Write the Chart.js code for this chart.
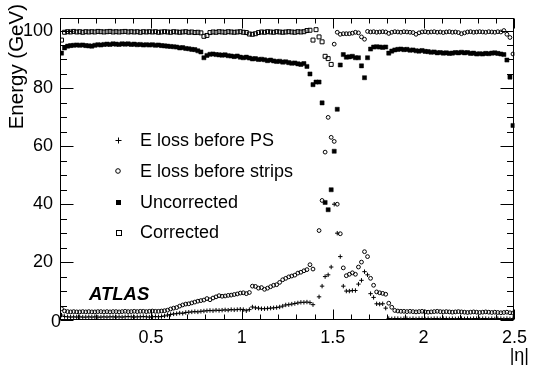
<!DOCTYPE html>
<html><head><meta charset="utf-8">
<script src="https://cdn.jsdelivr.net/npm/chart.js@4.4.0/dist/chart.umd.min.js"></script>
<style>html,body{margin:0;padding:0;background:#fff;overflow:hidden}</style>
</head><body>
<canvas id="c" width="534" height="367" style="display:block;width:534px;height:367px"></canvas>
<script>
// 150 |eta| bins of width 1/60 between 0 and 2.5 (bin centres)
const nBins = 150;
const etaBins = Array.from({length: nBins}, (_, i) => (i + 0.5) / 60);

const lossBeforePS = [1.7,
 1.2,1.1,1.0,1.1,1.0,1.1,1.0,1.0,1.1,1.0, 1.1,1.0,1.0,1.1,1.0,1.1,1.1,1.0,1.1,1.0, 1.1,1.2,1.1,1.0,1.1,1.1,1.2,1.1,1.0,1.1, 1.2,1.1,1.2,
 1.4,1.7,1.9,2.1,2.2,2.4,2.3,2.6,2.7,2.8, 2.9,2.8,3.0,3.1,3.2,3.3,3.2,3.4,3.3,3.4, 3.5,3.4,3.6,3.5,3.6,3.7,3.6,3.2,3.6,4.5,
 4.2,4.1,3.9,3.9,4.0,4.1,4.2,4.3,4.5,4.8, 5.2,5.3,5.5,5.7,5.9,6.1,6.1,6.2,6.0,5.3,
 null,
 8.0,11.7,15.0,15.6,18.3,40.0,30.0,21.9,11.7,10.0, 10.0,10.2,10.2,12.4,13.7,16.7,15.6,9.1,7.8,5.6, 5.5,5.6,4.1,
 0.5,0.4,0.5,0.5,0.4,0.5,0.5,0.4,0.5,0.4, 0.5,0.5,0.4,0.5,0.4,0.5,0.5,0.4,0.5,0.5, 0.4,0.5,0.4,0.5,0.5,0.4,0.5,0.4,0.5,0.5, 0.4,0.5,0.5,0.4,0.5,0.4,0.5,0.5,0.4,0.5, 0.4,0.5];

const lossBeforeStrips = [3.9,
 3.1,2.9,2.8,2.9,2.8,2.8,2.9,2.8,2.9,2.8, 2.8,2.9,2.9,2.8,2.9,2.8,2.9,2.9,2.8,2.9, 3.0,2.9,2.9,3.0,2.9,3.0,3.0,2.9,3.0,3.1, 3.0,3.0,3.1,3.2,
 3.4,3.8,4.1,4.3,4.8, 5.2,5.5,5.6,5.9,6.2,6.5,6.7,6.9,7.4,7.0, 7.6,8.0,8.4,8.2,8.3,8.5,8.6,8.8,9.0,9.3,
 9.4,9.1,9.5,11.7,11.6,11.0,11.2,10.6,11.0,11.5, 12.0,12.2,13.0,13.9,14.4,14.9,15.2,15.5,16.2,16.5, 17.0,17.4,19.1,17.6,
 null,
 30.9,41.3,58.0,70.0,63.1,61.7,40.0,29.8,18.0,15.3, 15.8,16.3,15.8,18.3,20.0,23.6,21.9,14.4,12.0,9.7, 9.4,9.2,8.9,5.8,4.4,3.3,3.1,
 3.0,3.0,2.9,3.0,2.9,2.8,2.9,3.0,2.8,2.7, 2.8,2.9,3.0,2.9,2.8,2.9,2.8,2.7,2.8,2.9, 2.8,2.7,2.6,2.7,2.8,2.7,2.6,2.7,2.8,2.7, 2.6,2.7,2.6,2.5,2.6,2.7,2.5,2.4];

const uncorrected = [
 92.2,94.0,94.6,94.8,94.9,95.0,94.9,95.0,94.8,94.7, 94.6,94.9,95.1,95.0,95.2,95.3,95.2,95.4,95.3,95.2,
 95.4,95.3,95.4,95.2,95.3,95.1,95.2,95.0,95.1,95.0, 95.1,94.9,95.0,94.8,94.7,94.6,94.5,94.4,94.3,94.0,
 94.1,93.8,93.7,93.5,93.4,93.0,92.6,90.6,91.4,91.8, 91.9,91.7,91.6,91.5,91.6,91.3,91.2,91.0,91.2,90.8,
 90.6,90.8,90.5,90.2,90.3,90.0,90.1,89.9,89.6,89.8, 89.5,89.3,89.4,89.1,89.2,88.9,88.7,88.8,88.5,88.3,
 88.6,87.6,85.0,81.3,82.2,82.2,75.0,40.6,38.1,45.0, 58.3,72.8,88.1,91.7,90.8,90.9,91.1,90.6,90.6,87.8,
 83.7,90.6,93.6,94.3,94.4,94.3,94.2,94.3,
 92.2,92.9,93.3,93.5,93.6,93.4,93.5,93.2,93.3,93.0, 92.9,93.1,92.8,92.7,92.5,92.6,92.3,92.4,92.2,92.3,
 92.1,92.2,92.4,92.3,92.5,92.3,92.4,92.1,92.2,91.9, 92.0,91.9,92.1,92.0,92.2,92.3,92.1,91.9,
 91.7,89.8,83.9,67.2];

const corrected = [
 96.7,99.4,99.6,99.5,99.7,99.5,99.6,99.4,99.6,99.5, 99.6,99.5,99.7,99.6,99.5,99.6,99.7,99.5,99.6,99.5,
 99.6,99.7,99.5,99.6,99.5,99.6,99.4,99.6,99.5,99.6, 99.5,99.6,99.4,99.5,99.6,99.5,99.4,99.6,99.5,99.4,
 99.5,99.6,99.4,99.5,99.3,99.4,99.2,98.0,98.3,99.3, 99.5,99.4,99.6,99.5,99.4,99.6,99.5,99.4,99.5,99.6,
 99.4,99.3,98.8,98.7,98.9,99.3,99.5,99.4,99.6,99.5, 99.4,99.6,99.5,99.4,99.5,99.6,99.5,99.4,99.6,99.5,
 99.6,100.0,100.1,96.7,100.3,97.8,96.1,91.1,90.3,88.3, 95.3,99.4,98.7,98.9,98.9,98.9,99.1,99.4,99.2,97.8,
 97.0,99.7,99.5,99.6,99.4,99.5,99.6,99.5,
 99.0,99.4,99.6,99.5,99.4,99.6,99.5,99.4,99.3,98.7, 99.2,99.5,99.6,99.4,99.5,99.6,99.4,99.5,99.3,99.5,
 99.6,99.4,99.5,99.3,98.9,99.2,99.5,99.6,99.4,99.5, 99.6,99.5,99.4,99.6,99.5,99.4,99.6,99.5,
 100.0,98.7,97.6,91.9];

const seriesNames = ['E loss before PS', 'E loss before strips', 'Uncorrected', 'Corrected'];
const xTickValues = [0, 0.5, 1, 1.5, 2, 2.5];
const xTickLabels = ['0', '0.5', '1', '1.5', '2', '2.5'];
const yTickValues = [0, 20, 40, 60, 80, 100];
const yTickLabels = ['0', '20', '40', '60', '80', '100'];
const originLabel = '0'; // shared "0" of both axes, drawn once at the corner
const xTitle = '|η|';
const yTitle = 'Energy (GeV)';
const expLabel = 'ATLAS';
const crackEdge = 1.5; // corrected points drawn as squares below, circles above

const FONT = "'Liberation Sans', Arial, Helvetica, sans-serif";

function pts(vals) {
  return etaBins.map((x, i) => ({x, y: vals[i]})).filter(p => p.y !== null && p.y !== undefined);
}

const decor = {
  id: 'decor',
  beforeDatasetsDraw(chart) {
    const {ctx, chartArea: a, scales: {x, y}} = chart;
    ctx.save();
    ctx.strokeStyle = '#000';
    ctx.lineWidth = 1;
    const L = Math.round(a.left) + 0.5, R = Math.round(a.right) - 0.5;
    const T = Math.round(a.top) + 0.5, B = Math.round(a.bottom) - 0.5;
    ctx.strokeRect(L, T, R - L, B - T);
    ctx.beginPath();
    for (let k = 0; k <= 25; k++) {
      const v = k / 10;
      const px = Math.round(x.getPixelForValue(v)) + 0.5;
      const len = (k % 5 === 0) ? 10 : 5;
      ctx.moveTo(px, B); ctx.lineTo(px, B - len);
      ctx.moveTo(px, T); ctx.lineTo(px, T + len);
    }
    for (let v = 0; v <= 100; v += 5) {
      const py = Math.round(y.getPixelForValue(v)) + 0.5;
      const len = (v % 20 === 0) ? 13 : 6.5;
      ctx.moveTo(L, py); ctx.lineTo(L + len, py);
      ctx.moveTo(R, py); ctx.lineTo(R - len, py);
    }
    ctx.stroke();
    ctx.restore();
  },
  afterDraw(chart) {
    const {ctx, scales: {x, y}} = chart;
    ctx.save();
    ctx.fillStyle = '#000';
    ctx.strokeStyle = '#000';
    // shared origin label
    ctx.font = `18px ${FONT}`;
    ctx.textBaseline = 'middle';
    ctx.textAlign = 'center';
    ctx.fillText(originLabel, x.getPixelForValue(0) - 4, y.getPixelForValue(0) + 2);
    // axis titles
    ctx.textAlign = 'right';
    ctx.fillText(xTitle, 529, 356);
    ctx.save();
    ctx.font = `20.5px ${FONT}`;
    ctx.translate(17, 4);
    ctx.rotate(-Math.PI / 2);
    ctx.textAlign = 'right';
    ctx.fillText(yTitle, 0, 0);
    ctx.restore();
    // ATLAS label
    ctx.font = `italic bold 18.5px ${FONT}`;
    ctx.textAlign = 'left';
    ctx.textBaseline = 'alphabetic';
    ctx.fillText(expLabel, 89, 300);
    // legend
    const rows = [140, 171, 202, 232];
    const mx = 118;
    ctx.font = `18px ${FONT}`;
    ctx.textBaseline = 'middle';
    rows.forEach((ry, k) => {
      ctx.lineWidth = 1;
      ctx.beginPath();
      if (k === 0) {
        ctx.moveTo(mx - 2.5, ry + 0.5); ctx.lineTo(mx + 3.5, ry + 0.5);
        ctx.moveTo(mx + 0.5, ry - 2.5); ctx.lineTo(mx + 0.5, ry + 3.5);
        ctx.stroke();
      } else if (k === 1) {
        ctx.arc(mx, ry, 2.3, 0, Math.PI * 2); ctx.stroke();
      } else if (k === 2) {
        ctx.fillRect(mx - 2, ry - 2, 5, 5);
      } else {
        ctx.strokeRect(mx - 1.5, ry - 1.5, 5, 5);
      }
      ctx.fillText(seriesNames[k], 140, ry + 1);
    });
    ctx.restore();
  }
};

new Chart(document.getElementById('c'), {
  type: 'scatter',
  data: {
    datasets: [
      {label: seriesNames[0], data: pts(lossBeforePS), pointStyle: 'cross', pointRadius: 2.2,
       borderColor: '#000', backgroundColor: '#000', pointBorderWidth: 1},
      {label: seriesNames[1], data: pts(lossBeforeStrips), pointStyle: 'circle', pointRadius: 1.9,
       borderColor: '#000', backgroundColor: 'rgba(0,0,0,0)', pointBorderWidth: 1},
      {label: seriesNames[2], data: pts(uncorrected), pointStyle: 'rect', pointRadius: 2.9,
       borderColor: '#000', backgroundColor: '#000', pointBorderWidth: 0.5},
      {label: seriesNames[3], data: pts(corrected),
       pointStyle: c => (c.raw && c.raw.x < crackEdge) ? 'rect' : 'circle',
       pointRadius: c => (c.raw && c.raw.x < crackEdge) ? 2.8 : 1.9,
       borderColor: '#000', backgroundColor: 'rgba(0,0,0,0)', pointBorderWidth: 1}
    ]
  },
  options: {
    responsive: false,
    animation: false,
    events: [],
    layout: {padding: {top: 7, right: 13, left: 0, bottom: 0}},
    plugins: {legend: {display: false}, tooltip: {enabled: false}},
    scales: {
      x: {
        type: 'linear', min: 0, max: 2.5,
        grid: {display: false, drawTicks: false},
        border: {display: false},
        afterFit: s => { s.height = 47; },
        afterBuildTicks: s => { s.ticks = xTickValues.map(v => ({value: v})); },
        ticks: {
          color: '#000', padding: 7, maxRotation: 0, autoSkip: false,
          font: {family: FONT, size: 18},
          callback: (v) => { const k = xTickValues.indexOf(v); return k > 0 ? xTickLabels[k] : ''; }
        }
      },
      y: {
        type: 'linear', min: 0, max: 104.4,
        grid: {display: false, drawTicks: false},
        border: {display: false},
        afterFit: s => { s.width = 60; },
        afterBuildTicks: s => { s.ticks = yTickValues.map(v => ({value: v})); },
        ticks: {
          color: '#000', padding: 7, autoSkip: false,
          font: {family: FONT, size: 18},
          callback: (v) => { const k = yTickValues.indexOf(v); return k > 0 ? yTickLabels[k] : ''; }
        }
      }
    }
  },
  plugins: [decor]
});
</script>
</body></html>
